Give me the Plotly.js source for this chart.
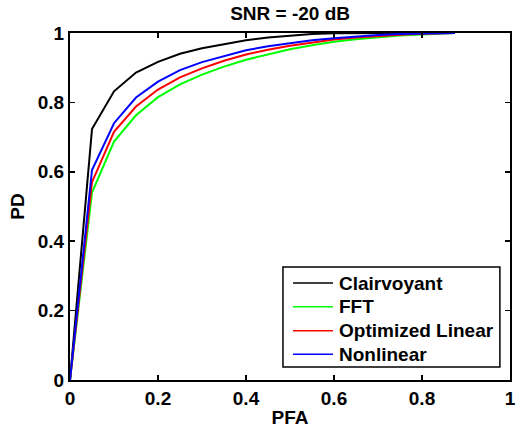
<!DOCTYPE html>
<html>
<head>
<meta charset="utf-8">
<script src="https://cdn.plot.ly/plotly-3.0.1.min.js"></script>
<style>html,body{margin:0;padding:0;background:#fff;}#chart{width:518px;height:430px;}</style>
</head>
<body>
<div id="chart"></div>
<script>
const pfa = [0, 0.05, 0.1, 0.15, 0.2, 0.25, 0.3, 0.35, 0.4, 0.45, 0.5, 0.55, 0.6, 0.65, 0.7, 0.75, 0.8, 0.85, 0.875];
const clairvoyant = [0, 0.723, 0.832, 0.886, 0.917, 0.94, 0.956, 0.968, 0.979, 0.987, 0.993, 0.997, 0.999, 1, 1, 1, 1, 1, 1];
const fft = [0, 0.54, 0.687, 0.763, 0.815, 0.852, 0.88, 0.903, 0.923, 0.939, 0.953, 0.965, 0.975, 0.982, 0.988, 0.993, 0.996, 0.999, 1];
const optimizedLinear = [0, 0.57, 0.715, 0.788, 0.837, 0.872, 0.898, 0.92, 0.938, 0.952, 0.963, 0.973, 0.981, 0.987, 0.992, 0.995, 0.998, 0.999, 1];
const nonlinear = [0, 0.605, 0.74, 0.814, 0.86, 0.893, 0.916, 0.934, 0.95, 0.962, 0.971, 0.979, 0.985, 0.99, 0.994, 0.997, 0.999, 1, 1];
const seriesNames = ['Clairvoyant', 'FFT', 'Optimized Linear', 'Nonlinear'];
const tickVals = [0, 0.2, 0.4, 0.6, 0.8, 1];
const tickText = ['0', '0.2', '0.4', '0.6', '0.8', '1'];

const colors = ['#000000', '#00ff00', '#ff0000', '#0000ff'];
const ys = [clairvoyant, fft, optimizedLinear, nonlinear];
const data = ys.map((y, i) => ({
  x: pfa, y: y, type: 'scatter', mode: 'lines', name: seriesNames[i],
  line: {color: colors[i], width: 2}, showlegend: false
}));

const fnt = {family: 'Arial, Liberation Sans, sans-serif', size: 19, color: '#000', weight: 'bold'};

// Legend drawn in paper coordinates (MATLAB-style box)
const legBox = {x0: 0.484, x1: 0.977, y0: 0.0375, y1: 0.3256};
const rowY = [0.2795, 0.2112, 0.1421, 0.0741];
const lineX0 = 0.5068, lineX1 = 0.5977, textX = 0.6091;
const shapes = [{type: 'rect', xref: 'paper', yref: 'paper', x0: legBox.x0, x1: legBox.x1, y0: legBox.y0, y1: legBox.y1,
  line: {color: '#000', width: 1.5}, fillcolor: '#fff', layer: 'above'}];
const annotations = [];
seriesNames.forEach((n, i) => {
  shapes.push({type: 'line', xref: 'paper', yref: 'paper', x0: lineX0, x1: lineX1, y0: rowY[i], y1: rowY[i],
    line: {color: colors[i], width: 1.5}, layer: 'above'});
  annotations.push({xref: 'paper', yref: 'paper', x: textX, y: rowY[i], xanchor: 'left', yanchor: 'middle',
    text: n, showarrow: false, font: fnt, borderpad: 0});
});

const axisCommon = {
  range: [0, 1], tickvals: tickVals, ticktext: tickText,
  ticks: 'inside', ticklen: 5, tickwidth: 1.5, tickcolor: '#000',
  showline: true, linecolor: '#000', linewidth: 2, mirror: 'ticks',
  showgrid: false, zeroline: false, tickfont: fnt, fixedrange: true
};
const layout = {
  width: 518, height: 430,
  margin: {l: 70, r: 8, t: 33, b: 50},
  paper_bgcolor: '#fff', plot_bgcolor: '#fff',
  font: fnt,
  title: {text: 'SNR = -20 dB', font: fnt, x: 0.56, xanchor: 'center', y: 0.97, yanchor: 'middle'},
  xaxis: Object.assign({}, axisCommon, {title: {text: 'PFA', font: fnt, standoff: 3}}),
  yaxis: Object.assign({}, axisCommon, {title: {text: 'PD', font: fnt, standoff: 8}}),
  showlegend: false,
  shapes: shapes,
  annotations: annotations
};
Plotly.newPlot('chart', data, layout, {displayModeBar: false, staticPlot: true});
</script>
</body>
</html>
